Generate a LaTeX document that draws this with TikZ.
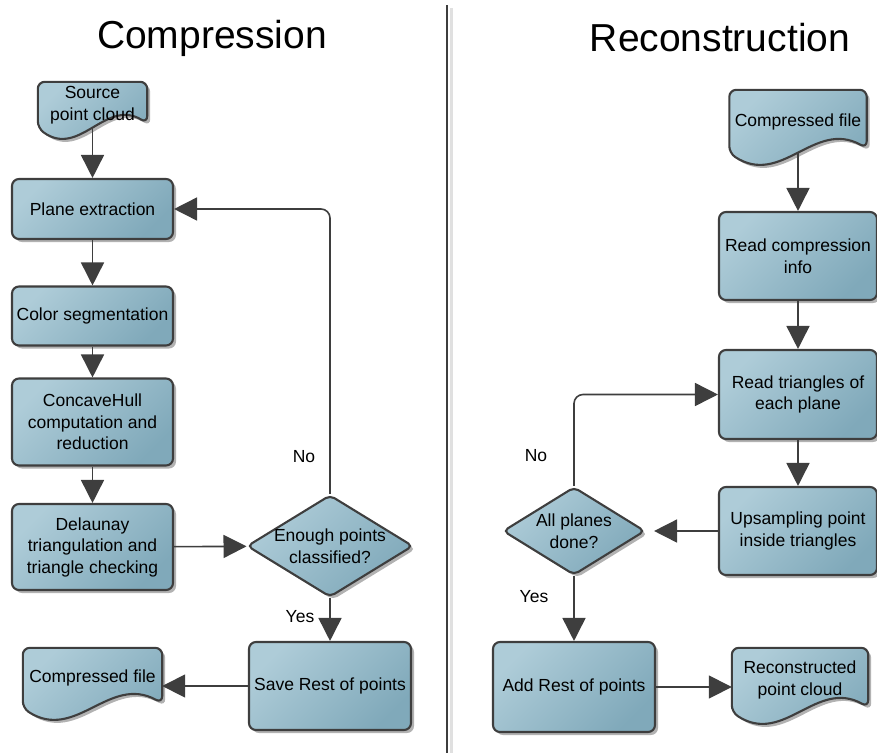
\documentclass[tikz,border=0pt]{standalone}
\usepackage{fontspec}
\setmainfont{Liberation Sans}
\usetikzlibrary{shapes.geometric,arrows.meta,shadows,calc,backgrounds}
\definecolor{boxlight}{RGB}{174,204,216}
\definecolor{boxdark}{RGB}{128,169,186}
\definecolor{edgegray}{RGB}{62,62,62}

% outline of a document node: #1 node name, #2 depth of the wave
\newcommand\docoutline[2]{%
  \begin{scope}[on background layer]
    \path[boxpaint, rounded corners=7pt] (#1.west) -- (#1.north west) -- (#1.north east)
      -- ($(#1.south east)+(0,-5)$)
      .. controls ($(#1.south west)!0.62!(#1.south east)+(0,-#2)$)
         and ($(#1.south west)!0.38!(#1.south east)+(0,#2)$) .. (#1.south west) -- cycle;
  \end{scope}}

\begin{document}
\begin{tikzpicture}[x=1pt, y=-1pt,
  every node/.style = {font=\fontsize{17.5}{21.5}\selectfont, align=center},
  boxpaint/.style = {draw=edgegray, line width=2.1pt, top color=boxlight,
    bottom color=boxdark, shading angle=45,
    drop shadow={shadow xshift=3pt, shadow yshift=-3pt, opacity=.3, fill=black}},
  process/.style = {boxpaint, shape=rectangle, rounded corners=7pt},
  decision/.style = {boxpaint, shape=diamond, rounded corners=5pt, inner sep=0pt},
  document/.style = {shape=rectangle},
  title/.style = {font=\fontsize{39}{44}\selectfont},
  flow/.style = {draw=edgegray, line width=1.6pt, -{Triangle[length=23pt,width=23pt]}}]
  \useasboundingbox (0,0) rectangle (877,753);

  % divider
  \draw[line width=3pt, black!12] (451,8) -- (451,753);
  \draw[line width=2pt, edgegray] (447,5) -- (447,753);

  \node[title] (comptitle) at (212,38) {Compression};
  \node[title] (recotitle) at (720,38) {Reconstruction};

  % compression side
  \node[document, minimum width=109, minimum height=46] (source) at (92.5,105) {Source\\point cloud};
  \docoutline{source}{30}
  \node[process, minimum width=161, minimum height=60] (plane) at (92.5,209) {Plane extraction};
  \node[process, minimum width=161, minimum height=59] (colorseg) at (92.5,316) {Color segmentation};
  \node[process, minimum width=161, minimum height=87] (hull) at (92.5,422) {ConcaveHull\\computation and\\reduction};
  \node[process, minimum width=161, minimum height=86] (delaunay) at (92.5,547) {Delaunay\\triangulation and\\triangle checking};
  \node[decision, minimum width=166, minimum height=102,
    label={[align=center]center:Enough points\\classified?}] (enough) at (330,546) {};
  \node[process, minimum width=162, minimum height=88] (saverest) at (330,686) {Save Rest of points};
  \node[document, minimum width=139, minimum height=60] (cfileout) at (92.5,678) {Compressed file};
  \docoutline{cfileout}{34}

  \node (nol) at (304,457) {No};
  \node (yesl) at (300,617) {Yes};

  \draw[flow] (source.south) -- (plane.north);
  \draw[flow] (plane) -- (colorseg);
  \draw[flow] (colorseg) -- (hull);
  \draw[flow] (hull) -- (delaunay);
  \draw[flow] (delaunay) -- (enough);
  \draw[flow] (enough) -- (saverest);
  \draw[flow, rounded corners=9pt] (enough.north) |- (plane.east);
  \draw[flow] (saverest.west) -- (saverest.west -| cfileout.east);

  % reconstruction side
  \node[document, minimum width=137, minimum height=63] (cfilein) at (798,121.5) {Compressed file};
  \docoutline{cfilein}{34}
  \node[process, minimum width=158, minimum height=88] (readinfo) at (798,256) {Read compression\\info};
  \node[process, minimum width=158, minimum height=89] (readtri) at (798,394.5) {Read triangles of\\each plane};
  \node[process, minimum width=158, minimum height=88] (upsample) at (798,531) {Upsampling point\\inside triangles};
  \node[decision, minimum width=142, minimum height=88,
    label={[align=center]center:All planes\\done?}] (alldone) at (574,531) {};
  \node[process, minimum width=162, minimum height=90] (addrest) at (574,687) {Add Rest of points};
  \node[document, minimum width=136, minimum height=64] (recon) at (800,680) {Reconstructed\\point cloud};
  \docoutline{recon}{34}

  \node (nor) at (536,456) {No};
  \node (yesr) at (534,597) {Yes};

  \draw[flow] (cfilein.south) -- (readinfo.north);
  \draw[flow] (readinfo) -- (readtri);
  \draw[flow] (readtri) -- (upsample);
  \draw[flow, shorten >=8pt] (upsample) -- (alldone);
  \draw[flow, rounded corners=9pt] (alldone.north) |- (readtri.west);
  \draw[flow] (alldone) -- (addrest);
  \draw[flow] (addrest.east) -- (addrest.east -| recon.west);
\end{tikzpicture}
\end{document}
